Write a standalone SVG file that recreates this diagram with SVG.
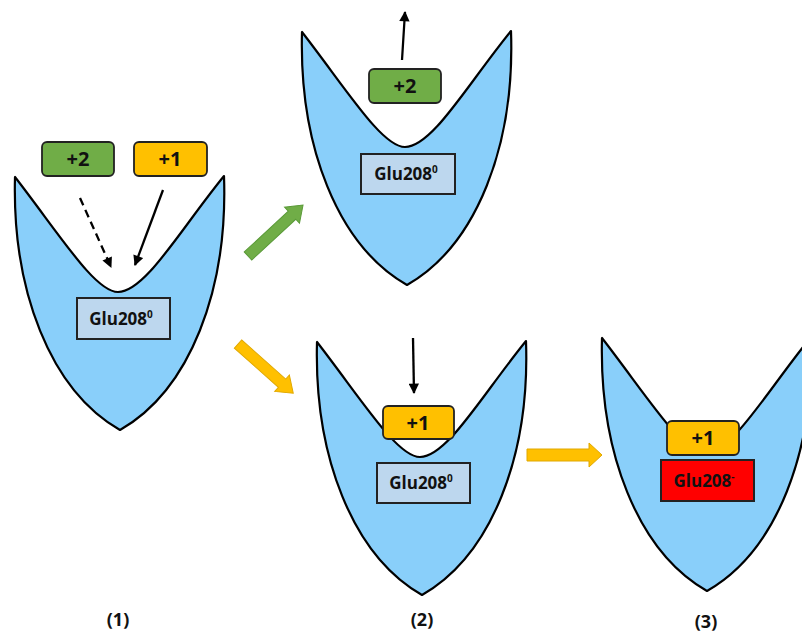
<svg xmlns="http://www.w3.org/2000/svg" width="802" height="633" viewBox="0 0 802 633">
<style>
.pocket{fill:#89CFFA;stroke:#000;stroke-width:2.2;stroke-linejoin:round}
.glu{fill:#BDD7EE;stroke:#222;stroke-width:2}
.gluneg{fill:#FF0000;stroke:#222;stroke-width:2}
.g{fill:#70AD47;stroke:#222;stroke-width:1.8}
.y{fill:#FFC000;stroke:#222;stroke-width:1.8}
.t{font-family:"Open Sans","Liberation Sans",sans-serif;font-weight:bold;fill:#111;text-anchor:middle}
.lbl{font-size:20px}
.num{font-size:18px}
.gt{font-size:17px}
.sup{font-size:10px}
.ln{stroke:#000;stroke-width:2.3;fill:none}
</style>
<defs>
<path id="pk" d="M15,177 C12,290 50,390 120,430 C190,390 228,290 224,176 C180,230 145,292 118,292 C95,292 60,235 15,177 Z"/>
<marker id="ah" viewBox="0 0 10 10" refX="9" refY="5" markerWidth="5.5" markerHeight="4.5" orient="auto" markerUnits="strokeWidth">
<path d="M0,0 L10,5 L0,10 Z" fill="#000"/>
</marker>
</defs>
<g id="pocket1">
<use href="#pk" class="pocket"/>
<rect class="glu" x="77" y="298" width="93" height="41"/>
<text class="t gt" x="121" y="325">Glu208<tspan class="sup" dy="-7">0</tspan></text>
</g>
<g id="pocket2">
<use href="#pk" class="pocket" transform="translate(287,-145)"/>
<rect class="glu" x="361" y="154" width="94" height="40"/>
<text class="t gt" x="406" y="180">Glu208<tspan class="sup" dy="-7">0</tspan></text>
</g>
<g id="pocket3">
<use href="#pk" class="pocket" transform="translate(302,165)"/>
<rect class="glu" x="377" y="463" width="93" height="40"/>
<text class="t gt" x="421" y="489">Glu208<tspan class="sup" dy="-7">0</tspan></text>
</g>
<g id="pocket4">
<use href="#pk" class="pocket" transform="translate(587,161)"/>
<rect class="gluneg" x="661" y="460" width="93" height="41"/>
<text class="t gt" x="704" y="487">Glu208<tspan class="sup" dy="-7">-</tspan></text>
</g>
<g id="ion2a">
<rect class="g" x="42" y="142" width="72" height="34" rx="5"/>
<text class="t lbl" x="78" y="166">+2</text>
</g>
<g id="ion1a">
<rect class="y" x="134" y="142" width="73" height="34" rx="5"/>
<text class="t lbl" x="170" y="166">+1</text>
</g>
<g id="ion2b">
<rect class="g" x="369" y="69" width="72" height="34" rx="5"/>
<text class="t lbl" x="405" y="93">+2</text>
</g>
<g id="ion1b">
<rect class="y" x="383" y="406" width="71" height="33" rx="5"/>
<text class="t lbl" x="418" y="430">+1</text>
</g>
<g id="ion1c">
<rect class="y" x="667" y="421" width="72" height="34" rx="5"/>
<text class="t lbl" x="703" y="445">+1</text>
</g>
<g id="connectors">
<line class="ln" x1="80" y1="198" x2="111" y2="267" stroke-dasharray="8,5" marker-end="url(#ah)"/>
<line class="ln" x1="163" y1="190" x2="135" y2="265" marker-end="url(#ah)"/>
<line class="ln" x1="402" y1="60" x2="405" y2="12" marker-end="url(#ah)"/>
<line class="ln" x1="413" y1="338" x2="414" y2="393" marker-end="url(#ah)"/>
<polygon transform="translate(248,256) rotate(-42.8)" points="0,-5.5 60,-5.5 60,-11 75,0 60,11 60,5.5 0,5.5" fill="#70AD47" stroke="#5a9a38" stroke-width="1"/>
<polygon transform="translate(238,344) rotate(41.7)" points="0,-5.5 59,-5.5 59,-11 74,0 59,11 59,5.5 0,5.5" fill="#FFC000" stroke="#e0a800" stroke-width="1"/>
<polygon transform="translate(527,455)" points="0,-6 62,-6 62,-12 75,0 62,12 62,6 0,6" fill="#FFC000" stroke="#e0a800" stroke-width="1"/>
</g>
<text class="t num" x="118" y="626">(1)</text>
<text class="t num" x="422" y="626">(2)</text>
<text class="t num" x="706" y="628">(3)</text>
</svg>
